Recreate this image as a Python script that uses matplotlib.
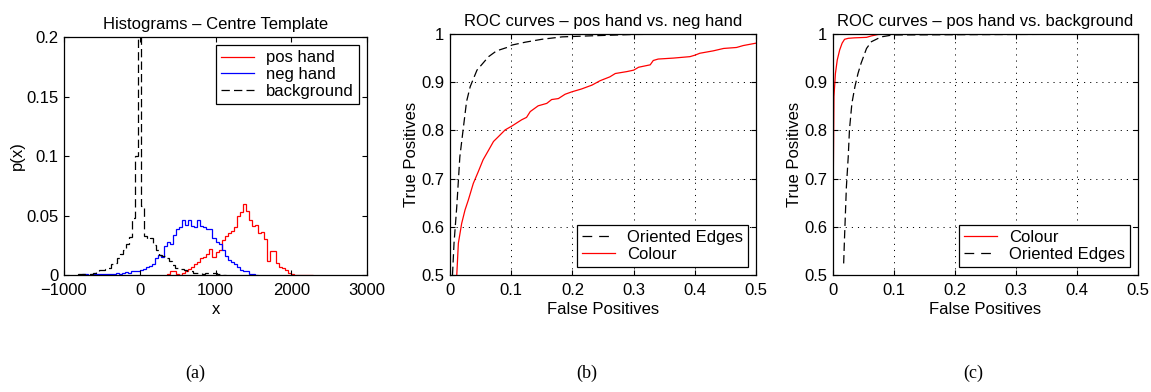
import numpy as np
import matplotlib
matplotlib.use("Agg")
from matplotlib import pyplot as plt

plt.rcParams["font.family"] = ["Liberation Sans", "DejaVu Sans"]
plt.rcParams["lines.scale_dashes"] = False

# ---- (a) histograms, bin width 40 ----
BIN_W = 40
pos_start = 360
pos_hand = [0.001, 0.003, 0.003, 0.001, 0.0, 0.002, 0.003, 0.005, 0.007, 0.009,
            0.011, 0.014, 0.015, 0.018, 0.022, 0.015, 0.019, 0.021, 0.029, 0.033,
            0.035, 0.037, 0.040, 0.050, 0.053, 0.060, 0.054, 0.046, 0.041, 0.042,
            0.035, 0.036, 0.030, 0.012, 0.020, 0.020, 0.010, 0.007, 0.006, 0.004,
            0.002, 0.001, 0.0, 0.0, 0.0, 0.0, 0.0, 0.0]

neg_start = -760
neg_hand = [0.0005, 0.0005, 0.0003, 0.0005, 0.0008, 0.0005, 0.0008, 0.001, 0.0008, 0.001,
            0.0012, 0.0015, 0.001, 0.002, 0.0025, 0.002, 0.003, 0.0035, 0.003, 0.004,
            0.005, 0.007, 0.0075, 0.009, 0.014, 0.017, 0.015, 0.024, 0.028, 0.026,
            0.034, 0.039, 0.040, 0.046, 0.042, 0.046, 0.041, 0.040, 0.046, 0.041,
            0.040, 0.039, 0.039, 0.031, 0.028, 0.026, 0.021, 0.016, 0.013, 0.011,
            0.009, 0.007, 0.004, 0.003, 0.003, 0.001, 0.001, 0.0]

bg_start = -820
background = [0.0005, 0.0005, 0.001, 0.0012, 0.001, 0.002, 0.003, 0.004, 0.004, 0.005,
              0.006, 0.009, 0.010, 0.014, 0.018, 0.021, 0.026, 0.032, 0.048, 0.100,
              0.200, 0.058, 0.033, 0.030, 0.031, 0.025, 0.021, 0.017, 0.016, 0.014,
              0.012, 0.008, 0.006, 0.005, 0.005, 0.004, 0.003, 0.003, 0.002, 0.002,
              0.0015, 0.001, 0.0015, 0.002, 0.002, 0.0015, 0.001, 0.0005, 0.0]

# ---- (b) ROC pos hand vs neg hand ----
b_edges_fp = [0.004, 0.0065, 0.011, 0.016, 0.022, 0.027, 0.033, 0.044, 0.063, 0.076,
              0.093, 0.101, 0.123, 0.150, 0.183, 0.226, 0.30, 0.40, 0.50]
b_edges_tp = [0.5, 0.566, 0.642, 0.745, 0.808, 0.860, 0.891, 0.925, 0.953, 0.965,
              0.972, 0.977, 0.983, 0.989, 0.994, 0.996, 0.999, 1.0, 1.0]
b_colour_fp = [0.011, 0.0136, 0.019, 0.0245, 0.030, 0.038, 0.046, 0.054, 0.063, 0.071,
               0.079, 0.090, 0.101, 0.117, 0.125, 0.131, 0.144, 0.158, 0.166, 0.177,
               0.188, 0.199, 0.215, 0.232, 0.245, 0.261, 0.270, 0.289, 0.300, 0.308,
               0.327, 0.332, 0.340, 0.365, 0.392, 0.400, 0.408, 0.430, 0.447, 0.468,
               0.479, 0.500]
b_colour_tp = [0.5, 0.566, 0.607, 0.635, 0.656, 0.690, 0.714, 0.739, 0.759, 0.777,
               0.787, 0.801, 0.809, 0.822, 0.827, 0.839, 0.851, 0.856, 0.864, 0.866,
               0.875, 0.880, 0.886, 0.894, 0.903, 0.911, 0.918, 0.922, 0.925, 0.931,
               0.936, 0.945, 0.948, 0.950, 0.953, 0.956, 0.960, 0.965, 0.970, 0.972,
               0.976, 0.981]

# ---- (c) ROC pos hand vs background ----
c_colour_fp = [0.0, 0.0005, 0.0016, 0.004, 0.007, 0.011, 0.015, 0.019, 0.025, 0.035,
               0.055, 0.063, 0.074, 0.090, 0.50]
c_colour_tp = [0.5, 0.70, 0.870, 0.918, 0.946, 0.967, 0.981, 0.989, 0.991, 0.992,
               0.993, 0.996, 0.999, 1.0, 1.0]
c_edges_fp = [0.0175, 0.019, 0.022, 0.025, 0.027, 0.031, 0.036, 0.041, 0.046, 0.055,
              0.063, 0.079, 0.098, 0.50]
c_edges_tp = [0.524, 0.580, 0.683, 0.745, 0.801, 0.856, 0.891, 0.918, 0.939, 0.970,
              0.984, 0.994, 0.998, 1.0]

FS = 12
DASH = (0, (6, 3))
LEG_DASH = (0, (7, 5))
GRID = dict(color="k", linestyle=(0, (0.8, 3.6)), linewidth=0.7)


def style_axes(ax):
    ax.tick_params(direction="in", length=3.5, width=0.8, top=True, right=True,
                   labelsize=FS, pad=4)
    ax.tick_params(axis="x", pad=6)
    for s in ax.spines.values():
        s.set_linewidth(0.9)


def legend(ax, loc):
    leg = ax.legend(loc=loc, fontsize=FS, fancybox=False, framealpha=1,
                    edgecolor="k", handlelength=2.0, handletextpad=0.7,
                    labelspacing=0.1, borderpad=0.3, borderaxespad=0.5)
    leg.get_frame().set_linewidth(0.9)
    for line in leg.get_lines():
        if line.get_color() == "k":
            line.set_linestyle(LEG_DASH)


fig = plt.figure(figsize=(11.51, 3.92), dpi=100)

# (a)
ax = fig.add_axes([0.0556, 0.2985, 0.2633, 0.607])
ax.stairs(pos_hand, pos_start + BIN_W * np.arange(len(pos_hand) + 1),
          color="#ff0000", lw=0.9, label="pos hand")
ax.stairs(neg_hand, neg_start + BIN_W * np.arange(len(neg_hand) + 1),
          color="#0000ff", lw=0.9, label="neg hand")
ax.stairs(background, bg_start + BIN_W * np.arange(len(background) + 1),
          color="k", lw=0.9, linestyle=DASH, label="background")
ax.set_xlim(-1000, 3000)
ax.set_ylim(0, 0.2)
ax.set_xticks([-1000, 0, 1000, 2000, 3000])
ax.set_yticks([0, 0.05, 0.1, 0.15, 0.2])
ax.set_yticklabels(["0", "0.05", "0.1", "0.15", "0.2"])
ax.set_title("Histograms – Centre Template", fontsize=FS, pad=6)
ax.set_xlabel("x", fontsize=FS, labelpad=3)
ax.set_ylabel("p(x)", fontsize=FS, labelpad=1)
style_axes(ax)
legend(ax, "upper right")

# (b)
ax = fig.add_axes([0.391, 0.2985, 0.2659, 0.6148])
ax.plot(b_edges_fp, b_edges_tp, color="k", lw=0.9, linestyle=DASH,
        label="Oriented Edges")
ax.plot(b_colour_fp, b_colour_tp, color="#ff0000", lw=0.9, label="Colour")
ax.set_xlim(0, 0.5)
ax.set_ylim(0.5, 1)
ax.set_xticks([0, 0.1, 0.2, 0.3, 0.4, 0.5])
ax.set_xticklabels(["0", "0.1", "0.2", "0.3", "0.4", "0.5"])
ax.set_yticks([0.5, 0.6, 0.7, 0.8, 0.9, 1.0])
ax.set_yticklabels(["0.5", "0.6", "0.7", "0.8", "0.9", "1"])
ax.grid(True, **GRID)
ax.set_title("ROC curves – pos hand vs. neg hand", fontsize=FS, pad=6)
ax.set_xlabel("False Positives", fontsize=FS, labelpad=3)
ax.set_ylabel("True Positives", fontsize=FS, labelpad=1.5)
style_axes(ax)
legend(ax, "lower right")

# (c)
ax = fig.add_axes([0.7237, 0.2985, 0.265, 0.6148])
ax.plot(c_colour_fp, c_colour_tp, color="#ff0000", lw=0.9, label="Colour")
ax.plot(c_edges_fp, c_edges_tp, color="k", lw=0.9, linestyle=DASH,
        label="Oriented Edges")
ax.set_xlim(0, 0.5)
ax.set_ylim(0.5, 1)
ax.set_xticks([0, 0.1, 0.2, 0.3, 0.4, 0.5])
ax.set_xticklabels(["0", "0.1", "0.2", "0.3", "0.4", "0.5"])
ax.set_yticks([0.5, 0.6, 0.7, 0.8, 0.9, 1.0])
ax.set_yticklabels(["0.5", "0.6", "0.7", "0.8", "0.9", "1"])
ax.grid(True, **GRID)
ax.set_title("ROC curves – pos hand vs. background", fontsize=FS, pad=6)
ax.set_xlabel("False Positives", fontsize=FS, labelpad=3)
ax.set_ylabel("True Positives", fontsize=FS, labelpad=1.5)
style_axes(ax)
legend(ax, "lower right")

for x, t in [(0.1694, "(a)"), (0.51, "(b)"), (0.8453, "(c)")]:
    fig.text(x, 0.048, t, ha="center", va="center", fontsize=13,
             family=["Liberation Serif", "DejaVu Serif"])

fig.savefig("out.png", dpi=100)
